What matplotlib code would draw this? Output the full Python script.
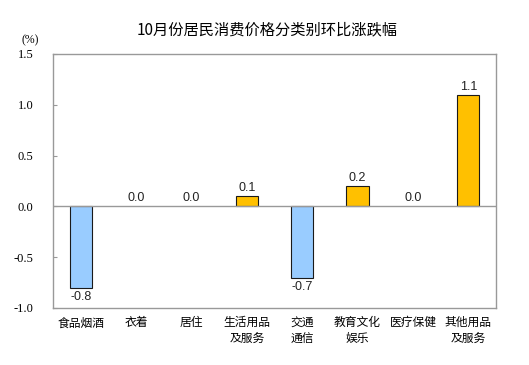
import matplotlib
matplotlib.use("Agg")
import matplotlib.pyplot as plt

categories = ["食品烟酒", "衣着", "居住", "生活用品\n及服务", "交通\n通信", "教育文化\n娱乐", "医疗保健", "其他用品\n及服务"]
values = [-0.8, 0.0, 0.0, 0.1, -0.7, 0.2, 0.0, 1.1]
labels = ["-0.8", "0.0", "0.0", "0.1", "-0.7", "0.2", "0.0", "1.1"]
yticks = [-1.0, -0.5, 0.0, 0.5, 1.0, 1.5]
title = "10月份居民消费价格分类别环比涨跌幅"

plt.rcParams['font.family'] = ['Noto Sans CJK SC', 'DejaVu Sans']

fig = plt.figure(figsize=(5.29, 3.65), dpi=100)
ax = fig.add_axes([53/529, 1-308/365, (496-53)/529, (308-54)/365])

x = list(range(len(categories)))
colors = ['#99CCFF' if v < 0 else '#FFC000' for v in values]
lws = [0.8 if v != 0 else 0 for v in values]
ax.bar(x, values, width=0.4, color=colors, edgecolor='#1a1a1a', linewidth=lws, zorder=3)
ax.axhline(0, color='#999999', linewidth=1.0, zorder=4)

for xi, v, lab in zip(x, values, labels):
    if v < 0:
        ax.text(xi, v - 0.03, lab, ha='center', va='top', fontsize=9, family='Liberation Sans', color='#222222')
    else:
        ax.text(xi, v + 0.02, lab, ha='center', va='bottom', fontsize=9, family='Liberation Sans', color='#222222')

ax.set_xlim(-0.5, len(categories) - 0.5)
ax.set_ylim(-1.0, 1.5)
ax.set_yticks(yticks)
ax.set_yticklabels([f"{t:.1f}" for t in yticks], family='Liberation Serif', fontsize=9)
ax.tick_params(axis='y', direction='in', length=3, color='#999999', pad=14)
ax.set_xticks(x)
ax.set_xticklabels(categories, fontsize=8.5, linespacing=1.3)
ax.tick_params(axis='x', length=0, pad=6)
for s in ax.spines.values():
    s.set_color('#999999')
    s.set_linewidth(1.0)

fig.text(267/529, 1-30/365, title, ha='center', va='center', fontsize=11)
fig.text(30/529, 1-40/365, "(%)", ha='center', va='center', family='Liberation Serif', fontsize=8.5)

fig.savefig("out.png", dpi=100, facecolor='white')
